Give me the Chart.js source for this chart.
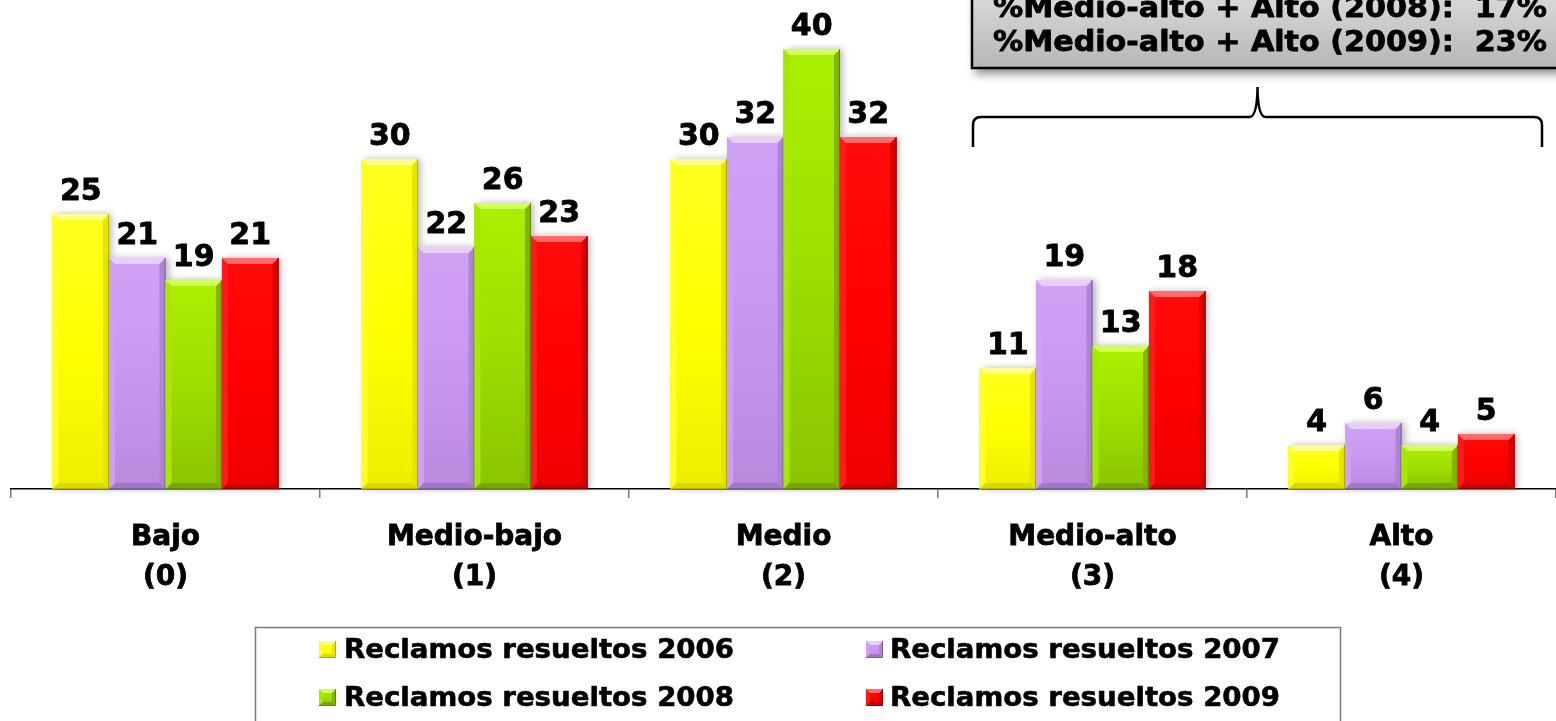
<!DOCTYPE html>
<html>
<head>
<meta charset="utf-8">
<script src="https://cdn.jsdelivr.net/npm/chart.js@4.4.1/dist/chart.umd.min.js"></script>
<style>
  html, body { margin: 0; padding: 0; background: #ffffff; overflow: hidden; }
  #wrap { width: 1556px; height: 721px; position: relative; }
</style>
</head>
<body>
<div id="wrap"><canvas id="c" width="1556" height="721"></canvas></div>
<script>
// Categories (nivel de resolución) and share of complaints per year, in %
const categories = [['Bajo', '(0)'], ['Medio-bajo', '(1)'], ['Medio', '(2)'], ['Medio-alto', '(3)'], ['Alto', '(4)']];
const seriesNames = ['Reclamos resueltos 2006', 'Reclamos resueltos 2007', 'Reclamos resueltos 2008', 'Reclamos resueltos 2009'];
const values2006 = [25, 30, 30, 11, 4];
const values2007 = [21, 22, 32, 19, 6];
const values2008 = [19, 26, 40, 13, 4];
const values2009 = [21, 23, 32, 18, 5];
const boxYears = ['2008', '2009'];

// Bevelled fill palette for each year
const palettes = [
  { top: '#ffff20', body: '#ffff00', bottom: '#eeee00', light: '#ffff90', left: '#ffff28', right: '#e6e600', base: '#dada00', edge: '#b4b400' },
  { top: '#d0a2f6', body: '#c898f0', bottom: '#b88ade', light: '#e8ceff', left: '#cea0f4', right: '#ae84d4', base: '#a078c4', edge: '#7e5ea0' },
  { top: '#acf000', body: '#9ede00', bottom: '#8ac400', light: '#d0ff5c', left: '#a6e800', right: '#82b600', base: '#76a600', edge: '#5e8800' },
  { top: '#ff0c0c', body: '#ff0000', bottom: '#f00000', light: '#ff6a6a', left: '#ff1a1a', right: '#da0000', base: '#c80000', edge: '#8a0000' }
];

const seriesValues = [values2006, values2007, values2008, values2009];
const FONT = 'DejaVu Sans';

function bevelRect(ctx, l, t, r, b, p, k, shadow) {
  const h = b - t;
  k = Math.min(k, h / 2, (r - l) / 2);
  ctx.save();
  if (shadow) {
    ctx.shadowColor = 'rgba(0,0,0,0.28)';
    ctx.shadowBlur = 7;
    ctx.shadowOffsetX = 3;
    ctx.shadowOffsetY = 0;
  }
  const g = ctx.createLinearGradient(0, t, 0, b);
  g.addColorStop(0, p.top);
  g.addColorStop(0.5, p.body);
  g.addColorStop(1, p.bottom);
  ctx.fillStyle = g;
  ctx.fillRect(l, t, r - l, h);
  ctx.restore();

  const poly = (pts, color) => {
    ctx.beginPath();
    ctx.moveTo(pts[0][0], pts[0][1]);
    for (let i = 1; i < pts.length; i++) ctx.lineTo(pts[i][0], pts[i][1]);
    ctx.closePath();
    ctx.fillStyle = color;
    ctx.fill();
  };
  poly([[l, t], [l + k, t + k], [l + k, b - k], [l, b]], p.left);
  poly([[r, t], [r - k, t + k], [r - k, b - k], [r, b]], p.right);
  poly([[l, b], [l + k, b - k], [r - k, b - k], [r, b]], p.base);
  poly([[l, t], [r, t], [r - k, t + k], [l + k, t + k]], p.light);
  ctx.strokeStyle = p.edge;
  ctx.lineWidth = 1;
  ctx.beginPath();
  ctx.moveTo(r - 0.5, t);
  ctx.lineTo(r - 0.5, b - 0.5);
  ctx.lineTo(l, b - 0.5);
  ctx.stroke();
}

// heavy text: fill plus a thin stroke in the same colour
function heavyText(ctx, text, x, y, weight) {
  ctx.lineWidth = weight;
  ctx.strokeStyle = ctx.fillStyle;
  ctx.lineJoin = 'round';
  ctx.strokeText(text, x, y);
  ctx.fillText(text, x, y);
}

const bevelBars = {
  id: 'bevelBars',
  afterDatasetsDraw(chart) {
    const ctx = chart.ctx;
    chart.data.datasets.forEach((ds, di) => {
      const meta = chart.getDatasetMeta(di);
      meta.data.forEach((bar) => {
        const w = bar.width;
        bevelRect(ctx, bar.x - w / 2, bar.y, bar.x + w / 2, bar.base, palettes[di], 6, true);
      });
    });
    // value labels above each bar
    ctx.save();
    ctx.fillStyle = '#000';
    ctx.font = 'bold 30px "' + FONT + '"';
    ctx.textAlign = 'center';
    ctx.textBaseline = 'alphabetic';
    chart.data.datasets.forEach((ds, di) => {
      const meta = chart.getDatasetMeta(di);
      meta.data.forEach((bar, i) => {
        heavyText(ctx, String(ds.data[i]), bar.x, bar.y - 14, 0.8);
      });
    });
    ctx.restore();
  }
};

const decorations = {
  id: 'decorations',
  afterDraw(chart) {
    const ctx = chart.ctx;
    const xs = chart.scales.x;

    // summary box in the upper right
    ctx.save();
    const bx = 972, bBottom = 68;
    ctx.shadowColor = 'rgba(0,0,0,0.45)';
    ctx.shadowBlur = 9;
    ctx.shadowOffsetX = 3;
    ctx.shadowOffsetY = 6;
    const g = ctx.createLinearGradient(0, -60, 0, bBottom);
    g.addColorStop(0, '#f4f4f4');
    g.addColorStop(1, '#b6b6b6');
    ctx.fillStyle = g;
    ctx.fillRect(bx, -60, 700, bBottom + 60);
    ctx.restore();
    ctx.save();
    ctx.strokeStyle = '#000';
    ctx.lineWidth = 2.5;
    ctx.strokeRect(bx, -60, 700, bBottom + 60);
    ctx.fillStyle = '#000';
    ctx.font = 'bold 28px "' + FONT + '"';
    ctx.textAlign = 'left';
    ctx.textBaseline = 'alphabetic';
    const iy = { '2006': 0, '2007': 1, '2008': 2, '2009': 3 };
    boxYears.forEach((yr, k) => {
      const vals = seriesValues[iy[yr]];
      const pct = vals[3] + vals[4];
      const txt = '%Medio-alto + Alto (' + yr + '):  ' + pct + '%';
      const w = ctx.measureText(txt).width;
      ctx.save();
      ctx.translate(993, 17 + k * 34);
      ctx.scale(554 / w, 1);
      ctx.fillStyle = '#000';
      heavyText(ctx, txt, 0, 0, 0.8);
      ctx.restore();
    });
    ctx.restore();

    // brace spanning the two upper categories
    const L = Math.round(xs.getPixelForValue(3) - 120);
    const R = Math.round(xs.getPixelForValue(4) + 140);
    const M = (L + R) / 2;
    const yH = 117, yEnd = 147, yPeak = 87;
    ctx.save();
    ctx.strokeStyle = '#000';
    ctx.lineWidth = 2.5;
    ctx.lineJoin = 'round';
    ctx.beginPath();
    ctx.moveTo(L, yEnd);
    ctx.lineTo(L, yH + 8);
    ctx.quadraticCurveTo(L, yH, L + 8, yH);
    ctx.lineTo(M - 8, yH);
    ctx.quadraticCurveTo(M - 1, yH, M, yPeak + 4);
    ctx.lineTo(M, yPeak);
    ctx.moveTo(M, yPeak + 4);
    ctx.quadraticCurveTo(M + 1, yH, M + 8, yH);
    ctx.lineTo(R - 8, yH);
    ctx.quadraticCurveTo(R, yH, R, yH + 8);
    ctx.lineTo(R, yEnd);
    ctx.stroke();
    ctx.restore();

    // legend
    ctx.save();
    ctx.strokeStyle = '#7a7a7a';
    ctx.lineWidth = 1.5;
    ctx.strokeRect(255.5, 627.5, 1085, 110);
    ctx.font = 'bold 26px "' + FONT + '"';
    ctx.textBaseline = 'middle';
    ctx.textAlign = 'left';
    const cols = [[319, 344], [866, 890]];
    const rows = [650, 698];
    chart.data.datasets.forEach((ds, di) => {
      const c = cols[di % 2], r = rows[Math.floor(di / 2)];
      bevelRect(ctx, c[0], r - 9, c[0] + 17, r + 8, palettes[di], 4, false);
      const w = ctx.measureText(ds.label).width;
      ctx.save();
      ctx.translate(c[1], r + 1);
      ctx.scale(390 / w, 1);
      ctx.fillStyle = '#000';
      heavyText(ctx, ds.label, 0, 0, 0.6);
      ctx.restore();
    });
    ctx.restore();
  }
};

new Chart(document.getElementById('c'), {
  type: 'bar',
  data: {
    labels: categories,
    datasets: seriesValues.map((vals, i) => ({
      label: seriesNames[i],
      data: vals,
      backgroundColor: palettes[i].body,
      borderWidth: 0,
      categoryPercentage: 0.731,
      barPercentage: 1.0
    }))
  },
  options: {
    responsive: false,
    animation: false,
    devicePixelRatio: 1,
    layout: { padding: { left: 11, right: 0, top: 5, bottom: 0 } },
    plugins: { legend: { display: false }, tooltip: { enabled: false } },
    scales: {
      x: {
        offset: true,
        grid: { display: true, drawOnChartArea: false, drawTicks: true, tickLength: 9, color: '#7a7a7a', lineWidth: 1.5, offset: true },
        border: { display: true, color: '#000', width: 1.5 },
        ticks: {
          color: '#000',
          font: { family: FONT, weight: 'bold', size: 28, lineHeight: 1.43 },
          textStrokeColor: '#000',
          textStrokeWidth: 0.8,
          padding: 20,
          maxRotation: 0,
          autoSkip: false
        },
        afterFit(scale) { scale.height = 232; }
      },
      y: { display: false, min: 0, max: 44 }
    }
  },
  plugins: [bevelBars, decorations]
});
</script>
</body>
</html>
